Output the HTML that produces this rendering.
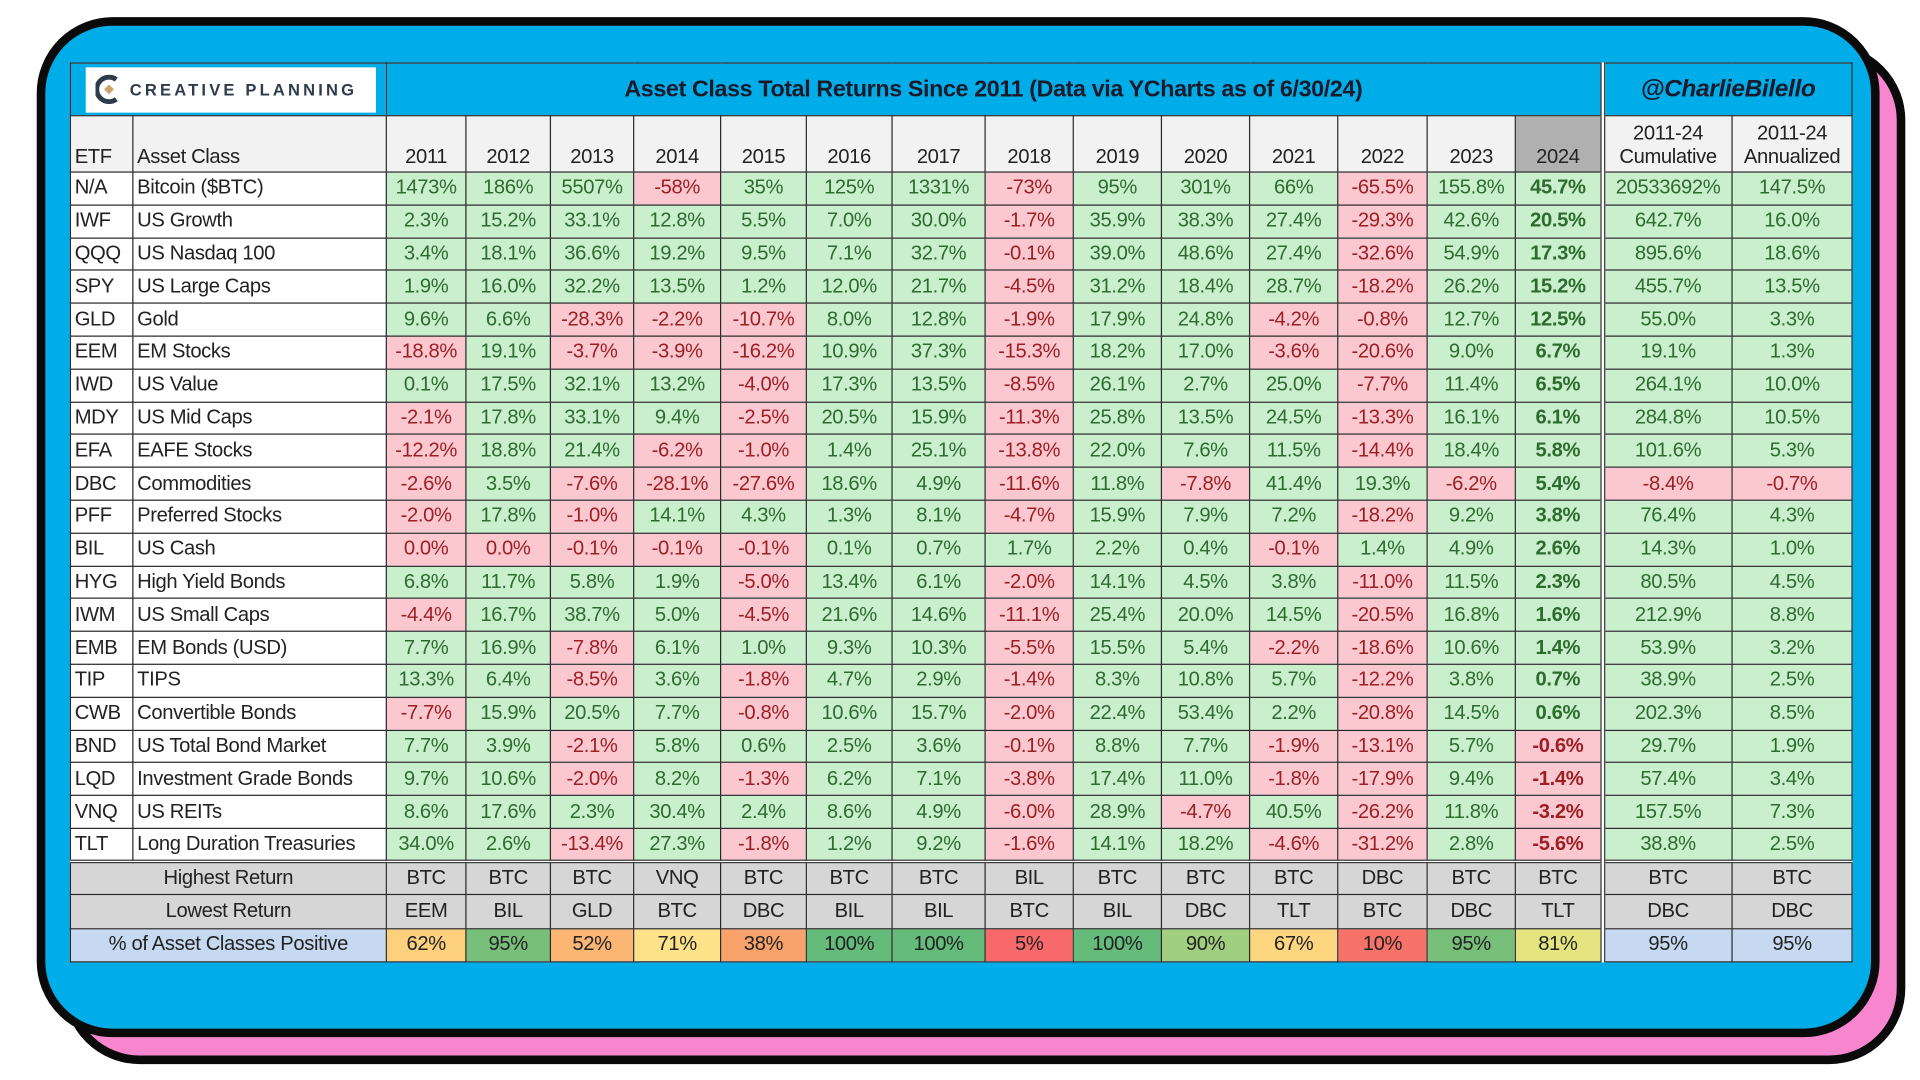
<!DOCTYPE html>
<html><head><meta charset="utf-8">
<style>
html,body{margin:0;padding:0;background:#fff;width:1920px;height:1080px;overflow:hidden}
#wrap{position:absolute;left:0;top:0;width:1568px;height:882px;transform:scale(1.22449);transform-origin:0 0;font-family:"Liberation Sans",Arial,sans-serif}
.pink{position:absolute;left:52px;top:36px;width:1490px;height:819px;background:#f786cf;border:7px solid #0a0a0a;border-radius:62px}
.blue{position:absolute;left:30px;top:14px;width:1491px;height:819px;background:#00ade9;border:7px solid #0a0a0a;border-radius:62px}
table{position:absolute;left:57px;top:51px;border-collapse:collapse;table-layout:fixed;font-size:16.5px;color:#222;background:#fff}
td{border:1px solid #2a2a2a;padding:0;text-align:center;white-space:nowrap;overflow:hidden;height:26.8px;line-height:25px;letter-spacing:-0.3px;box-sizing:border-box}
td.l{text-align:left;padding-left:3px;background:#fff}
.g{background:#c9efcd;color:#2e6b2e}
.r{background:#fcc8cf;color:#9c1f25}
.b{font-weight:bold}
tr.h td{background:#f2f2f2;vertical-align:bottom;height:46px;line-height:19px;padding-bottom:2px}
tr.s td{background:#d6d6d6;height:27.4px}
tr.p td{height:27.4px}
td.dv{border-right:4px double #333}
.tt{background:#00ade9;height:43px;font-weight:bold;font-size:19px;color:#1a1a2a}
</style></head><body>
<div id="wrap">
<div class="pink"></div>
<div class="blue"></div>
<table>
<colgroup>
<col style="width:51px"><col style="width:207px"><col style="width:65px"><col style="width:69px"><col style="width:68px"><col style="width:71px"><col style="width:70px"><col style="width:70px"><col style="width:76px"><col style="width:72px"><col style="width:72px"><col style="width:72px"><col style="width:72px"><col style="width:73px"><col style="width:72px"><col style="width:71px"><col style="width:106px"><col style="width:98px">
</colgroup>
<tr><td colspan="2" class="tt" style="padding:2px 8px 2px 12px;line-height:normal"><div style="background:#fff;height:37px;display:flex;align-items:center;padding-left:8px"><svg width="22" height="24" viewBox="0 0 22 24"><path d="M17 4 A10 10 0 1 0 17 20" fill="none" stroke="#2d3b4b" stroke-width="4"/><path d="M11 8 L15 12 L11 16 L7 12Z" fill="#c9a36a"/></svg><span style="font-size:13.5px;letter-spacing:2.6px;color:#2d3b4b;font-weight:bold;margin-left:6px">CREATIVE PLANNING</span></div></td><td colspan="14" class="tt dv">Asset Class Total Returns Since 2011 (Data via YCharts as of 6/30/24)</td><td colspan="2" class="tt" style="font-style:italic;font-size:20px">@CharlieBilello</td></tr>
<tr class="h"><td class="l" style="background:#f2f2f2">ETF</td><td class="l" style="background:#f2f2f2">Asset Class</td><td>2011</td><td>2012</td><td>2013</td><td>2014</td><td>2015</td><td>2016</td><td>2017</td><td>2018</td><td>2019</td><td>2020</td><td>2021</td><td>2022</td><td>2023</td><td class="dv" style="background:#b0b0b0">2024</td><td>2011-24<br>Cumulative</td><td>2011-24<br>Annualized</td></tr>
<tr><td class="l">N/A</td><td class="l">Bitcoin ($BTC)</td><td class="g">1473%</td><td class="g">186%</td><td class="g">5507%</td><td class="r">-58%</td><td class="g">35%</td><td class="g">125%</td><td class="g">1331%</td><td class="r">-73%</td><td class="g">95%</td><td class="g">301%</td><td class="g">66%</td><td class="r">-65.5%</td><td class="g">155.8%</td><td class="g b dv">45.7%</td><td class="g">20533692%</td><td class="g">147.5%</td></tr>
<tr><td class="l">IWF</td><td class="l">US Growth</td><td class="g">2.3%</td><td class="g">15.2%</td><td class="g">33.1%</td><td class="g">12.8%</td><td class="g">5.5%</td><td class="g">7.0%</td><td class="g">30.0%</td><td class="r">-1.7%</td><td class="g">35.9%</td><td class="g">38.3%</td><td class="g">27.4%</td><td class="r">-29.3%</td><td class="g">42.6%</td><td class="g b dv">20.5%</td><td class="g">642.7%</td><td class="g">16.0%</td></tr>
<tr><td class="l">QQQ</td><td class="l">US Nasdaq 100</td><td class="g">3.4%</td><td class="g">18.1%</td><td class="g">36.6%</td><td class="g">19.2%</td><td class="g">9.5%</td><td class="g">7.1%</td><td class="g">32.7%</td><td class="r">-0.1%</td><td class="g">39.0%</td><td class="g">48.6%</td><td class="g">27.4%</td><td class="r">-32.6%</td><td class="g">54.9%</td><td class="g b dv">17.3%</td><td class="g">895.6%</td><td class="g">18.6%</td></tr>
<tr><td class="l">SPY</td><td class="l">US Large Caps</td><td class="g">1.9%</td><td class="g">16.0%</td><td class="g">32.2%</td><td class="g">13.5%</td><td class="g">1.2%</td><td class="g">12.0%</td><td class="g">21.7%</td><td class="r">-4.5%</td><td class="g">31.2%</td><td class="g">18.4%</td><td class="g">28.7%</td><td class="r">-18.2%</td><td class="g">26.2%</td><td class="g b dv">15.2%</td><td class="g">455.7%</td><td class="g">13.5%</td></tr>
<tr><td class="l">GLD</td><td class="l">Gold</td><td class="g">9.6%</td><td class="g">6.6%</td><td class="r">-28.3%</td><td class="r">-2.2%</td><td class="r">-10.7%</td><td class="g">8.0%</td><td class="g">12.8%</td><td class="r">-1.9%</td><td class="g">17.9%</td><td class="g">24.8%</td><td class="r">-4.2%</td><td class="r">-0.8%</td><td class="g">12.7%</td><td class="g b dv">12.5%</td><td class="g">55.0%</td><td class="g">3.3%</td></tr>
<tr><td class="l">EEM</td><td class="l">EM Stocks</td><td class="r">-18.8%</td><td class="g">19.1%</td><td class="r">-3.7%</td><td class="r">-3.9%</td><td class="r">-16.2%</td><td class="g">10.9%</td><td class="g">37.3%</td><td class="r">-15.3%</td><td class="g">18.2%</td><td class="g">17.0%</td><td class="r">-3.6%</td><td class="r">-20.6%</td><td class="g">9.0%</td><td class="g b dv">6.7%</td><td class="g">19.1%</td><td class="g">1.3%</td></tr>
<tr><td class="l">IWD</td><td class="l">US Value</td><td class="g">0.1%</td><td class="g">17.5%</td><td class="g">32.1%</td><td class="g">13.2%</td><td class="r">-4.0%</td><td class="g">17.3%</td><td class="g">13.5%</td><td class="r">-8.5%</td><td class="g">26.1%</td><td class="g">2.7%</td><td class="g">25.0%</td><td class="r">-7.7%</td><td class="g">11.4%</td><td class="g b dv">6.5%</td><td class="g">264.1%</td><td class="g">10.0%</td></tr>
<tr><td class="l">MDY</td><td class="l">US Mid Caps</td><td class="r">-2.1%</td><td class="g">17.8%</td><td class="g">33.1%</td><td class="g">9.4%</td><td class="r">-2.5%</td><td class="g">20.5%</td><td class="g">15.9%</td><td class="r">-11.3%</td><td class="g">25.8%</td><td class="g">13.5%</td><td class="g">24.5%</td><td class="r">-13.3%</td><td class="g">16.1%</td><td class="g b dv">6.1%</td><td class="g">284.8%</td><td class="g">10.5%</td></tr>
<tr><td class="l">EFA</td><td class="l">EAFE Stocks</td><td class="r">-12.2%</td><td class="g">18.8%</td><td class="g">21.4%</td><td class="r">-6.2%</td><td class="r">-1.0%</td><td class="g">1.4%</td><td class="g">25.1%</td><td class="r">-13.8%</td><td class="g">22.0%</td><td class="g">7.6%</td><td class="g">11.5%</td><td class="r">-14.4%</td><td class="g">18.4%</td><td class="g b dv">5.8%</td><td class="g">101.6%</td><td class="g">5.3%</td></tr>
<tr><td class="l">DBC</td><td class="l">Commodities</td><td class="r">-2.6%</td><td class="g">3.5%</td><td class="r">-7.6%</td><td class="r">-28.1%</td><td class="r">-27.6%</td><td class="g">18.6%</td><td class="g">4.9%</td><td class="r">-11.6%</td><td class="g">11.8%</td><td class="r">-7.8%</td><td class="g">41.4%</td><td class="g">19.3%</td><td class="r">-6.2%</td><td class="g b dv">5.4%</td><td class="r">-8.4%</td><td class="r">-0.7%</td></tr>
<tr><td class="l">PFF</td><td class="l">Preferred Stocks</td><td class="r">-2.0%</td><td class="g">17.8%</td><td class="r">-1.0%</td><td class="g">14.1%</td><td class="g">4.3%</td><td class="g">1.3%</td><td class="g">8.1%</td><td class="r">-4.7%</td><td class="g">15.9%</td><td class="g">7.9%</td><td class="g">7.2%</td><td class="r">-18.2%</td><td class="g">9.2%</td><td class="g b dv">3.8%</td><td class="g">76.4%</td><td class="g">4.3%</td></tr>
<tr><td class="l">BIL</td><td class="l">US Cash</td><td class="r">0.0%</td><td class="r">0.0%</td><td class="r">-0.1%</td><td class="r">-0.1%</td><td class="r">-0.1%</td><td class="g">0.1%</td><td class="g">0.7%</td><td class="g">1.7%</td><td class="g">2.2%</td><td class="g">0.4%</td><td class="r">-0.1%</td><td class="g">1.4%</td><td class="g">4.9%</td><td class="g b dv">2.6%</td><td class="g">14.3%</td><td class="g">1.0%</td></tr>
<tr><td class="l">HYG</td><td class="l">High Yield Bonds</td><td class="g">6.8%</td><td class="g">11.7%</td><td class="g">5.8%</td><td class="g">1.9%</td><td class="r">-5.0%</td><td class="g">13.4%</td><td class="g">6.1%</td><td class="r">-2.0%</td><td class="g">14.1%</td><td class="g">4.5%</td><td class="g">3.8%</td><td class="r">-11.0%</td><td class="g">11.5%</td><td class="g b dv">2.3%</td><td class="g">80.5%</td><td class="g">4.5%</td></tr>
<tr><td class="l">IWM</td><td class="l">US Small Caps</td><td class="r">-4.4%</td><td class="g">16.7%</td><td class="g">38.7%</td><td class="g">5.0%</td><td class="r">-4.5%</td><td class="g">21.6%</td><td class="g">14.6%</td><td class="r">-11.1%</td><td class="g">25.4%</td><td class="g">20.0%</td><td class="g">14.5%</td><td class="r">-20.5%</td><td class="g">16.8%</td><td class="g b dv">1.6%</td><td class="g">212.9%</td><td class="g">8.8%</td></tr>
<tr><td class="l">EMB</td><td class="l">EM Bonds (USD)</td><td class="g">7.7%</td><td class="g">16.9%</td><td class="r">-7.8%</td><td class="g">6.1%</td><td class="g">1.0%</td><td class="g">9.3%</td><td class="g">10.3%</td><td class="r">-5.5%</td><td class="g">15.5%</td><td class="g">5.4%</td><td class="r">-2.2%</td><td class="r">-18.6%</td><td class="g">10.6%</td><td class="g b dv">1.4%</td><td class="g">53.9%</td><td class="g">3.2%</td></tr>
<tr><td class="l">TIP</td><td class="l">TIPS</td><td class="g">13.3%</td><td class="g">6.4%</td><td class="r">-8.5%</td><td class="g">3.6%</td><td class="r">-1.8%</td><td class="g">4.7%</td><td class="g">2.9%</td><td class="r">-1.4%</td><td class="g">8.3%</td><td class="g">10.8%</td><td class="g">5.7%</td><td class="r">-12.2%</td><td class="g">3.8%</td><td class="g b dv">0.7%</td><td class="g">38.9%</td><td class="g">2.5%</td></tr>
<tr><td class="l">CWB</td><td class="l">Convertible Bonds</td><td class="r">-7.7%</td><td class="g">15.9%</td><td class="g">20.5%</td><td class="g">7.7%</td><td class="r">-0.8%</td><td class="g">10.6%</td><td class="g">15.7%</td><td class="r">-2.0%</td><td class="g">22.4%</td><td class="g">53.4%</td><td class="g">2.2%</td><td class="r">-20.8%</td><td class="g">14.5%</td><td class="g b dv">0.6%</td><td class="g">202.3%</td><td class="g">8.5%</td></tr>
<tr><td class="l">BND</td><td class="l">US Total Bond Market</td><td class="g">7.7%</td><td class="g">3.9%</td><td class="r">-2.1%</td><td class="g">5.8%</td><td class="g">0.6%</td><td class="g">2.5%</td><td class="g">3.6%</td><td class="r">-0.1%</td><td class="g">8.8%</td><td class="g">7.7%</td><td class="r">-1.9%</td><td class="r">-13.1%</td><td class="g">5.7%</td><td class="r b dv">-0.6%</td><td class="g">29.7%</td><td class="g">1.9%</td></tr>
<tr><td class="l">LQD</td><td class="l">Investment Grade Bonds</td><td class="g">9.7%</td><td class="g">10.6%</td><td class="r">-2.0%</td><td class="g">8.2%</td><td class="r">-1.3%</td><td class="g">6.2%</td><td class="g">7.1%</td><td class="r">-3.8%</td><td class="g">17.4%</td><td class="g">11.0%</td><td class="r">-1.8%</td><td class="r">-17.9%</td><td class="g">9.4%</td><td class="r b dv">-1.4%</td><td class="g">57.4%</td><td class="g">3.4%</td></tr>
<tr><td class="l">VNQ</td><td class="l">US REITs</td><td class="g">8.6%</td><td class="g">17.6%</td><td class="g">2.3%</td><td class="g">30.4%</td><td class="g">2.4%</td><td class="g">8.6%</td><td class="g">4.9%</td><td class="r">-6.0%</td><td class="g">28.9%</td><td class="r">-4.7%</td><td class="g">40.5%</td><td class="r">-26.2%</td><td class="g">11.8%</td><td class="r b dv">-3.2%</td><td class="g">157.5%</td><td class="g">7.3%</td></tr>
<tr><td class="l">TLT</td><td class="l">Long Duration Treasuries</td><td class="g">34.0%</td><td class="g">2.6%</td><td class="r">-13.4%</td><td class="g">27.3%</td><td class="r">-1.8%</td><td class="g">1.2%</td><td class="g">9.2%</td><td class="r">-1.6%</td><td class="g">14.1%</td><td class="g">18.2%</td><td class="r">-4.6%</td><td class="r">-31.2%</td><td class="g">2.8%</td><td class="r b dv">-5.6%</td><td class="g">38.8%</td><td class="g">2.5%</td></tr>
<tr class="s" style="border-top:3px double #333"><td colspan="2">Highest Return</td><td>BTC</td><td>BTC</td><td>BTC</td><td>VNQ</td><td>BTC</td><td>BTC</td><td>BTC</td><td>BIL</td><td>BTC</td><td>BTC</td><td>BTC</td><td>DBC</td><td>BTC</td><td class="dv">BTC</td><td>BTC</td><td>BTC</td></tr>
<tr class="s"><td colspan="2">Lowest Return</td><td>EEM</td><td>BIL</td><td>GLD</td><td>BTC</td><td>DBC</td><td>BIL</td><td>BIL</td><td>BTC</td><td>BIL</td><td>DBC</td><td>TLT</td><td>BTC</td><td>DBC</td><td class="dv">TLT</td><td>DBC</td><td>DBC</td></tr>
<tr class="p"><td colspan="2" style="background:#c6d9f1">% of Asset Classes Positive</td><td style="background:#fdd07e">62%</td><td style="background:#78c07a">95%</td><td style="background:#fbb673">52%</td><td style="background:#fee28a">71%</td><td style="background:#f9a26c">38%</td><td style="background:#64bb7a">100%</td><td style="background:#64bb7a">100%</td><td style="background:#f8696b">5%</td><td style="background:#64bb7a">100%</td><td style="background:#a0cf7f">90%</td><td style="background:#fed680">67%</td><td style="background:#f7736a">10%</td><td style="background:#78c07a">95%</td><td class="dv" style="background:#e4e480">81%</td><td style="background:#c6d9f1">95%</td><td style="background:#c6d9f1">95%</td></tr>
</table>
</div>
</body></html>
